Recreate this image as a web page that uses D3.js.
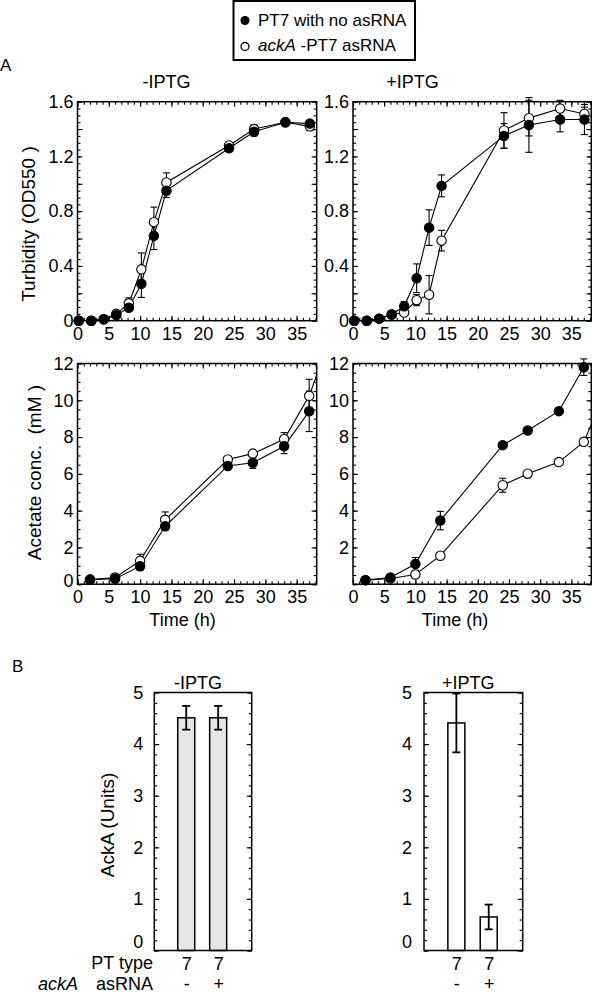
<!DOCTYPE html>
<html><head><meta charset="utf-8">
<script src="https://cdn.jsdelivr.net/npm/d3@7"></script>
<style>
body{margin:0;background:#fff}
svg{display:block}
text{font-family:"Liberation Sans",Arial,Helvetica,sans-serif;fill:#000;white-space:pre}
</style>
</head><body>
<svg id="c" width="592" height="994"></svg>
<script>
// ---------- data ----------
const timeTicks = [0,5,10,15,20,25,30,35];
const hoursOD = [0.2,2.2,4.2,6.2,8.2,10.2,12.2,14.2,24.2,28.2,33.2,37.1];
const odMinusCtrl    = [0,0,0.01,0.04,0.095,0.27,0.62,0.95,1.26,1.38,1.45,1.44];
const odMinusCtrlErr = [0,0,0,0.01,0.02,0.1,0.1,0.05,0.02,0.03,0.02,0.02];
const odMinusAs      = [0,0,0.01,0.05,0.127,0.375,0.72,1.01,1.28,1.40,1.45,1.42];
const odMinusAsErr   = [0,0,0,0.01,0.04,0.12,0.11,0.07,0.02,0.03,0.02,0.03];
const odPlusCtrl     = [0,0,0.015,0.045,0.105,0.31,0.68,0.985,1.35,1.43,1.47,1.47];
const odPlusCtrlErr  = [0,0,0,0.01,0.035,0.105,0.13,0.08,0.09,0.2,0.09,0.11];
const odPlusAs       = [0,0,0.015,0.045,0.06,0.15,0.19,0.585,1.39,1.48,1.55,1.51];
const odPlusAsErr    = [0,0,0,0,0.01,0.04,0.14,0.075,0.13,0.13,0.06,0.05];
const odTicks = [0,0.4,0.8,1.2,1.6];

const hoursAc = [2.0,6.0,10.0,14.0,24.0,28.0,33.0,37.0];
const acMinusCtrl    = [0.25,0.3,0.98,3.15,6.43,6.6,7.5,9.4];
const acMinusCtrlErr = [0.05,0.05,0.22,0.22,0.12,0.3,0.4,1.1];
const acMinusAs      = [0.25,0.36,1.27,3.5,6.78,7.1,7.88,10.24];
const acMinusAsErr   = [0,0,0.36,0.43,0.1,0.12,0.36,0.9];
const acPlusCtrl     = [0.22,0.36,1.1,3.46,7.56,8.36,9.41,11.8];
const acPlusCtrlErr  = [0,0,0.35,0.5,0.1,0.1,0.1,0.45];
const acPlusAs       = [0.22,0.31,0.53,1.55,5.38,6.01,6.64,7.74];
const acPlusAsErr    = [0,0,0.1,0.15,0.38,0.12,0.1,0.2];
// next sampling point (beyond the visible time range, clipped)
const hourAcNext = 41;
const acMinusAsNext = 14.0;
const acPlusAsNext = 10.9;
const acTicksLeft = [0,2,4,6,8,10,12];
const acTicksRight = [2,4,6,8,10,12];

const ptType = ["7","7"];
const asRNA = ["-","+"];
const ackMinusIPTG = [4.51,4.51];
const ackMinusIPTGErr = [0.23,0.23];
const ackPlusIPTG = [4.41,0.65];
const ackPlusIPTGErr = [0.57,0.24];
const ackTicks = [0,1,2,3,4,5];

// ---------- drawing ----------
const FONT = '"Liberation Sans",Arial,Helvetica,sans-serif';
const svg = d3.select("#c");
let clipId = 0;

function styleAxis(g, fs) {
  g.attr("font-size", fs).attr("font-family", FONT);
  g.select(".domain").remove();
  g.selectAll(".tick line").attr("stroke", "#000").attr("stroke-width", 1.1);
  g.selectAll(".tick text").attr("fill", "#000");
}

function frameAxes(g, x, y, opt) {
  const [l, r] = x.range(), [b, t] = y.range();
  g.append("g").attr("transform", `translate(0,${b})`)
    .call(d3.axisBottom(x).tickValues(opt.xLabels).tickSize(0).tickPadding(opt.xPad).tickFormat(opt.xFormat))
    .call(a => styleAxis(a, opt.fs));
  const yl = g.append("g").attr("transform", `translate(${l},0)`)
    .call(d3.axisLeft(y).tickValues(opt.yLabels).tickSize(0).tickPadding(opt.yPad).tickFormat(opt.yFormat))
    .call(a => styleAxis(a, opt.fs));
  if (opt.zeroLift) yl.selectAll(".tick text").filter(d => d === 0).attr("dy", `${0.32 - opt.zeroLift / opt.fs}em`);
  const sides = [
    [d3.axisBottom, x, `translate(0,${b})`],
    [d3.axisTop, x, `translate(0,${t})`],
  ];
  const vsides = [
    [d3.axisLeft, y, `translate(${l},0)`],
    [d3.axisRight, y, `translate(${r},0)`],
  ];
  if (opt.xMajor) sides.forEach(([ax, sc, tr]) => {
    g.append("g").attr("transform", tr).call(ax(sc).tickValues(opt.xMajor).tickSize(-5).tickFormat("")).call(a => styleAxis(a, opt.fs));
    g.append("g").attr("transform", tr).call(ax(sc).tickValues(opt.xMinor).tickSize(-3).tickFormat("")).call(a => styleAxis(a, opt.fs));
  });
  vsides.forEach(([ax, sc, tr]) => {
    g.append("g").attr("transform", tr).call(ax(sc).tickValues(opt.yMajor).tickSize(-5).tickFormat("")).call(a => styleAxis(a, opt.fs));
    g.append("g").attr("transform", tr).call(ax(sc).tickValues(opt.yMinor).tickSize(-3).tickFormat("")).call(a => styleAxis(a, opt.fs));
  });
  g.append("rect").attr("x", l).attr("y", t).attr("width", r - l).attr("height", b - t)
    .attr("fill", "none").attr("stroke", "#000").attr("stroke-width", 1.5);
}

function rangeStep(a, b, s) { return d3.range(0, Math.round((b - a) / s) + 1).map(i => +(a + i * s).toFixed(4)); }

function timePanel(c) {
  const x = d3.scaleLinear().domain([0, 38.2]).range([c.left, c.right]);
  const y = d3.scaleLinear().domain(c.yDomain).range([c.bottom, c.top]);
  const g = svg.append("g");
  frameAxes(g, x, y, {
    fs: 18, xLabels: timeTicks, xPad: c.xPad, xFormat: d3.format("d"),
    yLabels: c.yLabels, yPad: 4, yFormat: c.yFormat, zeroLift: c.zeroLift || 0,
    xMajor: rangeStep(0, 35, 5), xMinor: rangeStep(0, 38, 1),
    yMajor: rangeStep(c.yDomain[0], c.yDomain[1], c.yMajor),
    yMinor: rangeStep(c.yDomain[0], c.yDomain[1], c.yMinor)
  });
  const id = "clip" + (clipId++);
  g.append("clipPath").attr("id", id).append("rect")
    .attr("x", c.left).attr("y", c.top).attr("width", c.right - c.left).attr("height", c.bottom - c.top);
  const line = d3.line().x(d => x(d[0])).y(d => y(d[1]));
  const lines = g.append("g").attr("clip-path", `url(#${id})`);
  const series = [
    {h: c.hours.concat(c.asExtH || []), v: c.as.concat(c.asExtV || []), e: c.asErr, filled: false},
    {h: c.hours, v: c.ctrl, e: c.ctrlErr, filled: true}
  ];
  series.forEach(s => {
    lines.append("path").datum(s.h.map((h, i) => [h, s.v[i]]))
      .attr("d", line).attr("fill", "none").attr("stroke", "#000").attr("stroke-width", 1.1);
  });
  series.forEach(s => {
    const pts = c.hours.map((h, i) => ({h, v: s.v[i], e: s.e[i]})).filter(d => d.e > 0);
    const eb = g.append("g").attr("stroke", "#000").attr("stroke-width", 1.1);
    pts.forEach(d => {
      eb.append("line").attr("x1", x(d.h)).attr("x2", x(d.h)).attr("y1", y(d.v - d.e)).attr("y2", y(d.v + d.e));
      [d.v - d.e, d.v + d.e].forEach(yy => eb.append("line")
        .attr("x1", x(d.h) - 3.5).attr("x2", x(d.h) + 3.5).attr("y1", y(yy)).attr("y2", y(yy)));
    });
  });
  series.forEach(s => {
    g.append("g").selectAll("circle").data(c.hours.map((h, i) => [h, s.v[i]])).join("circle")
      .attr("cx", d => x(d[0])).attr("cy", d => y(d[1])).attr("r", 4.7)
      .attr("fill", s.filled ? "#000" : "#fff").attr("stroke", "#000").attr("stroke-width", 1.1);
  });
}

const fmtOD = d => d === 0 ? "0" : d3.format(".1f")(d);
const fmtInt = d3.format("d");

timePanel({left: 77.5, right: 316.7, top: 101.7, bottom: 320.7, yDomain: [0, 1.6], yLabels: odTicks, yFormat: fmtOD,
  yMajor: 0.2, yMinor: 0.05, xPad: 6.5, hours: hoursOD, ctrl: odMinusCtrl, ctrlErr: odMinusCtrlErr, as: odMinusAs, asErr: odMinusAsErr});
timePanel({left: 353, right: 591.3, top: 101.7, bottom: 320.7, yDomain: [0, 1.6], yLabels: odTicks, yFormat: fmtOD,
  yMajor: 0.2, yMinor: 0.05, xPad: 6.5, hours: hoursOD, ctrl: odPlusCtrl, ctrlErr: odPlusCtrlErr, as: odPlusAs, asErr: odPlusAsErr});
timePanel({left: 77.5, right: 316.7, top: 363.5, bottom: 584.2, yDomain: [0, 12], yLabels: acTicksLeft, yFormat: fmtInt,
  yMajor: 2, yMinor: 0.5, xPad: 6, zeroLift: 3, hours: hoursAc, ctrl: acMinusCtrl, ctrlErr: acMinusCtrlErr, as: acMinusAs, asErr: acMinusAsErr,
  asExtH: [hourAcNext], asExtV: [acMinusAsNext]});
timePanel({left: 353, right: 591.3, top: 363.5, bottom: 584.2, yDomain: [0, 12], yLabels: acTicksRight, yFormat: fmtInt,
  yMajor: 2, yMinor: 0.5, xPad: 6, hours: hoursAc, ctrl: acPlusCtrl, ctrlErr: acPlusCtrlErr, as: acPlusAs, asErr: acPlusAsErr,
  asExtH: [hourAcNext], asExtV: [acPlusAsNext]});

function barPanel(c) {
  const x = d3.scaleLinear().domain([0, 3.05]).range([c.left, c.right]);
  const y = d3.scaleLinear().domain([0, 5]).range([c.bottom, c.top]);
  const g = svg.append("g");
  const idx = c.values.map((v, i) => i + 1);
  g.append("g").selectAll("rect").data(c.values).join("rect")
    .attr("x", (d, i) => x(idx[i]) - 8.5).attr("width", 17)
    .attr("y", d => y(d)).attr("height", d => y(0) - y(d))
    .attr("fill", c.fill).attr("stroke", "#000").attr("stroke-width", 1.5);
  frameAxes(g, x, y, {
    fs: 18, xLabels: idx, xPad: 6.5, xFormat: (d, i) => ptType[i],
    yLabels: ackTicks, yPad: c.yPad, yFormat: fmtInt, zeroLift: 9,
    yMajor: rangeStep(0, 5, 1), yMinor: rangeStep(0, 5, 0.2)
  });
  g.append("g").attr("transform", `translate(0,${c.bottom})`)
    .call(d3.axisBottom(x).tickValues(idx).tickSize(0).tickPadding(26.5).tickFormat((d, i) => asRNA[i]))
    .call(a => styleAxis(a, 18));
  const eb = g.append("g").attr("stroke", "#000").attr("stroke-width", 1.8);
  c.values.forEach((v, i) => {
    const e = c.errs[i], cx = x(idx[i]);
    eb.append("line").attr("x1", cx).attr("x2", cx).attr("y1", y(v - e)).attr("y2", y(v + e));
    [v - e, v + e].forEach(yy => eb.append("line").attr("x1", cx - 4).attr("x2", cx + 4).attr("y1", y(yy)).attr("y2", y(yy)));
  });
  g.append("text").attr("x", (c.left + c.right) / 2 - 5).attr("y", 689).attr("text-anchor", "middle")
    .attr("font-size", 18).text(c.title);
}

barPanel({left: 154.3, right: 251.7, top: 692.5, bottom: 950.5, values: ackMinusIPTG, errs: ackMinusIPTGErr, fill: "#e6e6e6", yPad: 11, title: "-IPTG"});
barPanel({left: 424, right: 522.7, top: 692.5, bottom: 950.5, values: ackPlusIPTG, errs: ackPlusIPTGErr, fill: "#fff", yPad: 12, title: "+IPTG"});

// ---------- texts ----------
function txt(x, y, s, opts = {}) {
  const t = svg.append("text").attr("x", x).attr("y", y).attr("font-size", opts.fs || 18)
    .attr("text-anchor", opts.anchor || "start").text(s);
  if (opts.rot) t.attr("transform", `rotate(-90,${x},${y})`);
  if (opts.italic) t.attr("font-style", "italic");
  return t;
}
txt(0, 71, "A", {fs: 17});
txt(12, 672, "B", {fs: 17});
txt(166.5, 88, "-IPTG", {anchor: "middle"});
txt(412.5, 88, "+IPTG", {anchor: "middle"});
txt(35, 224, "Turbidity (OD550 )", {anchor: "middle", rot: true, fs: 19});
txt(41, 472.5, "Acetate conc.  (mM )", {anchor: "middle", rot: true, fs: 19});
txt(182.5, 626, "Time (h)", {anchor: "middle"});
txt(455, 626, "Time (h)", {anchor: "middle"});
txt(114, 825, "AckA (Units)", {anchor: "middle", rot: true, fs: 19});
txt(153, 969, "PT type", {anchor: "end", fs: 18});
txt(153, 990, "asRNA", {anchor: "end", fs: 18});
txt(38, 990, "ackA", {italic: true, fs: 18});

// legend
const lg = svg.append("g");
lg.append("rect").attr("x", 233.5).attr("y", 1).attr("width", 181.5).attr("height", 59)
  .attr("fill", "#fff").attr("stroke", "#000").attr("stroke-width", 2);
lg.append("circle").attr("cx", 245).attr("cy", 20.5).attr("r", 4.5).attr("fill", "#000");
lg.append("circle").attr("cx", 245).attr("cy", 46.5).attr("r", 4).attr("fill", "#fff").attr("stroke", "#000").attr("stroke-width", 1.3);
lg.append("text").attr("x", 258).attr("y", 26).attr("font-size", 17).text("PT7 with no asRNA");
const l2 = lg.append("text").attr("x", 258).attr("y", 51).attr("font-size", 17);
l2.append("tspan").attr("font-style", "italic").text("ackA");
l2.append("tspan").text(" -PT7 asRNA");
</script>
</body></html>
